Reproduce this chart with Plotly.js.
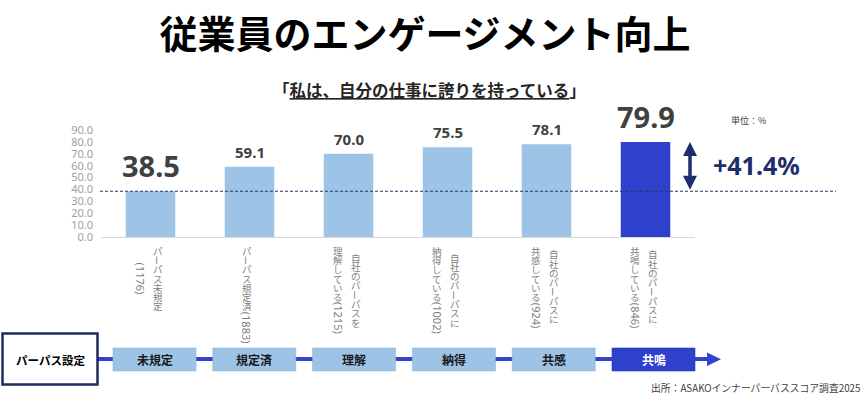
<!DOCTYPE html>
<html>
<head>
<meta charset="utf-8">
<script src="https://cdn.plot.ly/plotly-3.0.1.min.js"></script>
<style>html,body{margin:0;padding:0;background:#fff;}#chart{width:867px;height:394px;}</style>
</head>
<body>
<div id="chart"></div>
<script>
// ---- data ----
const categories = ['未規定', '規定済', '理解', '納得', '共感', '共鳴'];
const values = [38.5, 59.1, 70.0, 75.5, 78.1, 79.9];
const valueLabels = ['38.5', '59.1', '70.0', '75.5', '78.1', '79.9'];
const catLabelLines = [
  ['パーパス未規定', '(1176)'],
  ['パーパス規定済(1883)'],
  ['自社のパーパスを', '理解している(1215)'],
  ['自社のパーパスに', '納得している(1002)'],
  ['自社のパーパスに', '共感している(924)'],
  ['自社のパーパスに', '共鳴している(846)']
];
const yTicks = [0, 10, 20, 30, 40, 50, 60, 70, 80, 90];
const diffLabel = '+41.4%';
const titleText = '従業員のエンゲージメント向上';
const subtitleText = '「<span style="text-decoration:underline">私は、自分の仕事に誇りを持っている</span>」';
const unitText = '単位：%';
const stageHeader = 'パーパス設定';
const sourceText = '出所：ASAKOインナーパーパススコア調査2025';

// ---- layout helpers ----
const W = 867, H = 394;
const M = {l: 101, r: 172, t: 130, b: 157};
const PW = W - M.l - M.r, PH = H - M.t - M.b;
const px = x => (x - M.l) / PW;
const py = y => (H - M.b - y) / PH;
const FONT = '"Noto Sans CJK JP", "Noto Sans", sans-serif';

const LIGHT = '#9dc3e6', DARK = '#2f41cc', NAVY = '#1f2d6b';

const barColors = categories.map((c, i) => i === categories.length - 1 ? DARK : LIGHT);

const trace = {
  type: 'bar',
  x: categories,
  y: values,
  marker: {color: barColors, line: {width: 0}},
  hoverinfo: 'skip'
};

const annotations = [];
const shapes = [];

// value labels
values.forEach((v, i) => {
  const big = (i === 0 || i === values.length - 1);
  annotations.push({
    xref: 'x', yref: 'y', x: categories[i], y: v,
    text: '<b>' + valueLabels[i] + '</b>', showarrow: false,
    yanchor: 'middle', yshift: big ? 26 : 15,
    font: {family: '"Noto Sans", sans-serif', size: big ? 29 : 15, color: '#404040'}
  });
});

// vertical category labels (tategaki)
const CFS = 9.5, AFS = 11, STEP = 9.3, TOP = 246;
function asciiLen(s) {
  let w = 0;
  for (const ch of s) w += /[0-9]/.test(ch) ? 0.57 * AFS : 0.33 * AFS;
  return w;
}
catLabelLines.forEach((lines, i) => {
  const tokLines = lines.map(l => l.match(/[\x20-\x7e]+|./gu));
  const lens = tokLines.map(toks => toks.reduce((a, t) => a + (/^[\x20-\x7e]+$/.test(t) ? asciiLen(t) : STEP), 0));
  const maxLen = Math.max(...lens);
  tokLines.forEach((toks, li) => {
    const xs = lines.length === 1 ? -3 : (li === 0 ? 7 : -10.5);
    let pos = TOP + (maxLen - lens[li]) / 2;
    toks.forEach(t => {
      const isAscii = /^[\x20-\x7e]+$/.test(t);
      const len = isAscii ? asciiLen(t) : STEP;
      const cy = pos + len / 2;
      annotations.push({
        xref: 'x', yref: 'paper', x: categories[i], y: 0,
        xshift: xs, yshift: -(cy - (H - M.b)),
        xanchor: 'center', yanchor: 'middle', borderpad: 0,
        text: t, showarrow: false,
        textangle: (isAscii || t === 'ー') ? 90 : 0,
        font: {family: isAscii ? '"Noto Sans", sans-serif' : FONT, size: isAscii ? AFS : CFS, color: '#7f7f7f'}
      });
      pos += len;
    });
  });
});

// subtitle
annotations.push({
  xref: 'paper', yref: 'paper', x: px(429), y: py(90),
  text: '<b>' + subtitleText + '</b>', showarrow: false,
  xanchor: 'center', yanchor: 'middle',
  font: {family: FONT, size: 16.5, color: '#262626'}
});
// unit
annotations.push({
  xref: 'paper', yref: 'paper', x: px(748), y: py(120),
  text: unitText, showarrow: false, xanchor: 'center', yanchor: 'middle',
  font: {family: FONT, size: 9, color: '#404040'}
});
// double arrow
annotations.push({
  xref: 'paper', yref: 'y', x: px(690), y: values[values.length - 1],
  axref: 'pixel', ayref: 'y', ax: 0, ay: values[0],
  text: '', showarrow: true, arrowside: 'end+start',
  arrowhead: 2, startarrowhead: 2, arrowsize: 0.8, startarrowsize: 0.8,
  arrowwidth: 3.5, arrowcolor: NAVY, standoff: 0, startstandoff: 0
});
// diff label
annotations.push({
  xref: 'paper', yref: 'paper', x: px(756), y: py(165),
  text: '<b>' + diffLabel + '</b>', showarrow: false,
  xanchor: 'center', yanchor: 'middle',
  font: {family: '"Noto Sans", sans-serif', size: 25, color: NAVY}
});
// dashed reference line at first value
shapes.push({
  type: 'line', xref: 'paper', yref: 'y', x0: px(100), x1: px(836),
  y0: values[0], y1: values[0], layer: 'above',
  line: {color: '#1f3864', width: 1.2, dash: '3px,2px'}
});

// bottom flow
shapes.push({
  type: 'line', xref: 'paper', yref: 'paper', x0: px(98), x1: px(708), y0: py(359), y1: py(359),
  line: {color: '#3344cc', width: 4}, layer: 'above'
});
shapes.push({
  type: 'path', xref: 'paper', yref: 'paper', layer: 'above',
  path: `M${px(707)},${py(352.5)} L${px(707)},${py(366)} L${px(721)},${py(359.2)} Z`,
  fillcolor: '#3344cc', line: {width: 0}
});
shapes.push({
  type: 'rect', xref: 'paper', yref: 'paper', layer: 'above',
  x0: px(2.5), x1: px(97.5), y0: py(333.5), y1: py(384.5),
  fillcolor: '#ffffff', line: {color: '#1f2a5e', width: 2.5}
});
annotations.push({
  xref: 'paper', yref: 'paper', x: px(50), y: py(359.5),
  text: '<b>' + stageHeader + '</b>', showarrow: false, xanchor: 'center', yanchor: 'middle',
  font: {family: FONT, size: 11.5, color: '#000000'}
});
categories.forEach((c, i) => {
  const left = 113 + i * 99.8;
  const last = i === categories.length - 1;
  shapes.push({
    type: 'rect', xref: 'paper', yref: 'paper', layer: 'above',
    x0: px(left), x1: px(left + 83), y0: py(348), y1: py(371),
    fillcolor: last ? DARK : LIGHT, line: {color: last ? '#2a3bb8' : '#8fb2d6', width: 0.6}
  });
  annotations.push({
    xref: 'paper', yref: 'paper', x: px(left + 41.5), y: py(359.5),
    text: '<b>' + c + '</b>', showarrow: false, xanchor: 'center', yanchor: 'middle',
    font: {family: FONT, size: 12, color: last ? '#ffffff' : '#1a1a1a'}
  });
});
// source
annotations.push({
  xref: 'paper', yref: 'paper', x: px(861), y: py(387.5),
  text: sourceText, showarrow: false, xanchor: 'right', yanchor: 'middle', borderpad: 0,
  font: {family: FONT, size: 9.8, color: '#404040'}
});

const layout = {
  width: W, height: H,
  margin: M,
  paper_bgcolor: '#ffffff', plot_bgcolor: '#ffffff',
  showlegend: false,
  bargap: 0.5,
  title: {
    text: '<b>' + titleText + '</b>',
    xref: 'container', yref: 'container', x: 425 / W, y: 1 - 35 / H,
    xanchor: 'center', yanchor: 'middle',
    font: {family: FONT, size: 38, color: '#000000'}
  },
  xaxis: {
    type: 'category', range: [-0.5, categories.length - 0.5],
    showticklabels: false, ticks: '', showgrid: false, zeroline: false,
    showline: true, linecolor: '#d9d9d9', linewidth: 1, fixedrange: true
  },
  yaxis: {
    range: [0, 90], tickvals: yTicks, tickformat: '.1f',
    showgrid: false, zeroline: false, showline: false, ticks: '',
    ticklabelstandoff: 7,
    tickfont: {family: '"Noto Sans", sans-serif', size: 11, color: '#a0a0a0'},
    fixedrange: true
  },
  annotations: annotations,
  shapes: shapes
};

Plotly.newPlot('chart', [trace], layout, {displayModeBar: false, staticPlot: true});
</script>
</body>
</html>
